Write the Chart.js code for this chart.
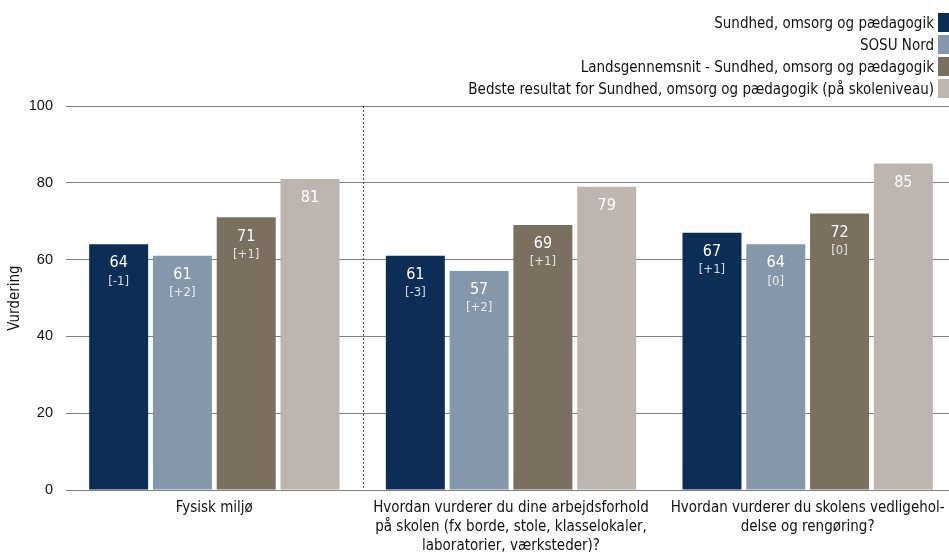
<!DOCTYPE html>
<html>
<head>
<meta charset="utf-8">
<script src="https://cdn.jsdelivr.net/npm/chart.js@4"></script>
<style>
  html, body { margin: 0; padding: 0; background: #fff; overflow: hidden; }
  #wrap { position: relative; width: 949px; height: 552px; overflow: hidden; }
  #chart { position: absolute; left: 0; top: 0; }
  #legend { position: absolute; right: 0; top: 12px; font-family: "DejaVu Sans Condensed", "DejaVu Sans", sans-serif; font-size: 15px; color: #111; }
  .row { display: flex; justify-content: flex-end; align-items: center; height: 21px; margin-bottom: 1px; }
  .sw { width: 11px; height: 19px; margin-left: 4px; }
</style>
</head>
<body>
<div id="wrap">
  <!-- plot runs a few px past the right edge, like the original -->
  <canvas id="chart" width="956" height="552"></canvas>
  <div id="legend"></div>
</div>
<script>
// Categories (multi-line labels)
const categories = [
  ['Fysisk miljø'],
  ['Hvordan vurderer du dine arbejdsforhold', 'på skolen (fx borde, stole, klasselokaler,', 'laboratorier, værksteder)?'],
  ['Hvordan vurderer du skolens vedligehol-', 'delse og rengøring?']
];

const seriesNames = [
  'Sundhed, omsorg og pædagogik',
  'SOSU Nord',
  'Landsgennemsnit - Sundhed, omsorg og pædagogik',
  'Bedste resultat for Sundhed, omsorg og pædagogik (på skoleniveau)'
];
const seriesColors = ['#0c2d55', '#8497ab', '#7b6f60', '#bdb6af'];

const sundhed = [64, 61, 67];
const sosuNord = [61, 57, 64];
const landsgns = [71, 69, 72];
const bedste = [81, 79, 85];

// change vs. last measurement, shown in brackets
const sundhedDelta = ['[-1]', '[-3]', '[+1]'];
const sosuNordDelta = ['[+2]', '[+2]', '[0]'];
const landsgnsDelta = ['[+1]', '[+1]', '[0]'];
const bedsteDelta = [null, null, null];

const yTicks = [0, 20, 40, 60, 80, 100];

const allValues = [sundhed, sosuNord, landsgns, bedste];
const allDeltas = [sundhedDelta, sosuNordDelta, landsgnsDelta, bedsteDelta];

// html legend, right aligned with swatches at the edge
const legendEl = document.getElementById('legend');
seriesNames.forEach((name, i) => {
  const row = document.createElement('div');
  row.className = 'row';
  row.innerHTML = '<span>' + name + '</span><span class="sw" style="background:' + seriesColors[i] + '"></span>';
  legendEl.appendChild(row);
});

const catFont = '"DejaVu Sans Condensed", "DejaVu Sans", sans-serif';

// value + delta labels inside bars
const barLabels = {
  id: 'barLabels',
  afterDatasetsDraw(chart) {
    const ctx = chart.ctx;
    ctx.save();
    ctx.textAlign = 'center';
    ctx.textBaseline = 'middle';
    chart.data.datasets.forEach((ds, di) => {
      const meta = chart.getDatasetMeta(di);
      meta.data.forEach((bar, i) => {
        const top = bar.y;
        ctx.fillStyle = '#ffffff';
        ctx.font = '16px ' + catFont;
        ctx.fillText(String(ds.data[i]), bar.x, top + 19);
        const d = allDeltas[di][i];
        if (d) {
          ctx.fillStyle = 'rgba(255,255,255,0.82)';
          ctx.font = '13px ' + catFont;
          ctx.fillText(d, bar.x, top + 37);
        }
      });
    });
    ctx.restore();
  }
};

// dotted divider after the first category
const divider = {
  id: 'divider',
  beforeDatasetsDraw(chart) {
    const x = chart.scales.x;
    const area = chart.chartArea;
    const xPos = (x.getPixelForValue(0) + x.getPixelForValue(1)) / 2;
    const ctx = chart.ctx;
    ctx.save();
    ctx.strokeStyle = '#555';
    ctx.lineWidth = 1;
    ctx.setLineDash([2, 2]);
    ctx.beginPath();
    ctx.moveTo(Math.round(xPos) + 0.5, area.top);
    ctx.lineTo(Math.round(xPos) + 0.5, area.bottom);
    ctx.stroke();
    ctx.restore();
  }
};

new Chart(document.getElementById('chart'), {
  type: 'bar',
  data: {
    labels: categories,
    datasets: allValues.map((vals, i) => ({
      label: seriesNames[i],
      data: vals,
      backgroundColor: seriesColors[i],
      borderWidth: 0,
      categoryPercentage: 0.86,
      barPercentage: 0.925
    }))
  },
  options: {
    responsive: false,
    animation: false,
    layout: { padding: { top: 106, right: 0, left: 0, bottom: 0 } },
    plugins: {
      legend: { display: false },
      tooltip: { enabled: false }
    },
    scales: {
      x: {
        afterFit(scale) { scale.height = 62; },
        grid: { display: false },
        border: { display: false },
        ticks: {
          color: '#111',
          font: { family: catFont, size: 15, lineHeight: 1.25 },
          maxRotation: 0,
          autoSkip: false,
          padding: 1
        }
      },
      y: {
        min: 0,
        max: 100,
        afterFit(scale) { scale.width = 66; },
        afterBuildTicks(axis) { axis.ticks = yTicks.map(v => ({ value: v })); },
        grid: { color: '#808080', lineWidth: 1, drawTicks: false },
        border: { display: false },
        ticks: {
          color: '#111',
          font: { family: '"Liberation Sans", Arial, sans-serif', size: 14.5 },
          padding: 13
        },
        title: {
          display: true,
          text: 'Vurdering',
          color: '#111',
          font: { family: catFont, size: 15 },
          padding: { top: 6, bottom: 0 }
        }
      }
    }
  },
  plugins: [divider, barLabels]
});
</script>
</body>
</html>
